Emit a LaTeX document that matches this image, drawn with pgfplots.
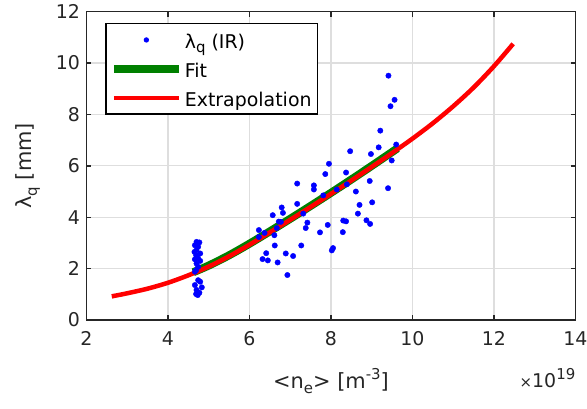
\documentclass[border=0pt]{standalone}
\usepackage{pgfplots}
\pgfplotsset{compat=1.18}
\usepackage{fontspec}
\setmainfont{DejaVu Sans}
\definecolor{axgray}{HTML}{262626}
\definecolor{gridgray}{HTML}{DEDEDE}
\definecolor{fitgreen}{HTML}{008000}
\begin{document}
\begin{tikzpicture}
\useasboundingbox (-86.5bp,-89bp) rectangle (500.5bp,320bp);
\begin{axis}[
  name=ax,
  scale only axis, width=489bp, height=308.3bp,
  at={(0,0)}, anchor=south west,
  xmin=2, xmax=14, ymin=0, ymax=12,
  xtick={2,4,...,14}, ytick={0,2,...,12},
  grid=major, major grid style={draw=gridgray, line width=1.2bp},
  axis line style={draw=axgray, line width=1.6bp},
  every tick/.style={draw=axgray, line width=1.4bp},
  major tick length=5bp, tick align=inside,
  xtick pos=both, ytick pos=both,
  /pgf/number format/assume math mode=true,
  tick label style={font=\fontsize{19}{22}\selectfont, text=axgray},
  yticklabel style={xshift=-3bp},
  xticklabel style={yshift=-8bp},
  xlabel={<n\raisebox{-0.45ex}{\fontsize{15}{15}\selectfont e}> [m\raisebox{0.75ex}{\fontsize{15}{15}\selectfont -3}]},
  ylabel={λ\raisebox{-0.45ex}{\fontsize{15}{15}\selectfont q} [mm]},
  label style={font=\fontsize{21}{24}\selectfont, text=axgray},
  xlabel style={at={(axis description cs:0.5,-0.2206)}, anchor=base},
  ylabel style={at={(axis description cs:-0.1121,0.5)}, anchor=base},
  legend style={at={(axis description cs:0.038,0.964)}, anchor=north west,
    draw=black, line width=1.6bp, fill=white,
    font=\fontsize{19}{22}\selectfont, inner xsep=4bp, inner ysep=3.7bp,
    row sep=3.7bp,
    nodes={text height=18.8bp, text depth=2.5bp, inner sep=2bp}},
  legend cell align=left,
]
\addplot[only marks, mark=*, mark size=2.7bp, color=blue,
  legend image code/.code={\fill[blue, draw=none] (32.5bp,0bp) circle (2.7bp); \path[draw=none] (0bp,0bp) -- (65bp,0bp);}]
  coordinates {
  (4.70,3.04) (4.77,3.02) (4.66,2.91) (4.74,2.85) (4.70,2.72) (4.65,2.65)
  (4.79,2.59) (4.69,2.52) (4.74,2.40) (4.66,2.36) (4.79,2.30) (4.70,2.20)
  (4.74,2.07) (4.69,1.94) (4.66,1.88)
  (4.74,1.55) (4.79,1.49) (4.66,1.36) (4.83,1.27) (4.70,1.17) (4.77,1.06)
  (4.69,1.01) (4.73,0.97)
  (9.41,9.51) (9.56,8.57) (9.46,8.32) (9.21,7.37) (9.17,6.72) (9.60,6.83)
  (8.98,6.46) (8.47,6.57) (7.95,6.08) (7.86,5.68) (8.37,5.74) (9.49,6.21)
  (8.95,5.41) (9.40,5.13) (8.39,5.28) (8.14,5.08) (8.61,5.00) (7.81,4.85)
  (7.58,5.24) (7.58,5.08) (7.17,5.31) (8.70,4.48) (9.01,4.58) (8.66,4.14)
  (8.87,3.88) (8.96,3.74) (8.30,3.87) (8.37,3.84) (8.29,3.42) (7.92,3.70)
  (7.73,3.41) (8.05,2.80) (8.02,2.71) (7.17,4.52) (6.79,4.38) (6.82,4.17)
  (6.57,4.08) (7.32,4.14) (7.42,3.79) (7.38,3.58) (6.72,3.83) (6.77,3.82)
  (6.67,3.58) (6.23,3.50) (6.37,3.39) (6.23,3.23) (6.62,2.90) (7.27,2.90)
  (6.41,2.60) (6.32,2.37) (6.45,2.32) (6.89,2.59) (7.07,2.49) (6.69,2.24)
  (6.93,1.75) (6.61,3.30)
  };
\addlegendentry{λ\raisebox{-0.45ex}{\fontsize{15}{15}\selectfont q} (IR)}
\addplot[color=fitgreen, line width=8bp, smooth,
  legend image code/.code={\draw[fitgreen, line width=8bp] (0bp,0bp) -- (65bp,0bp);}]
  coordinates {
  (4.62,1.86) (5,2.12) (5.5,2.52) (6,2.97) (6.5,3.45) (7,3.94) (7.5,4.44)
  (8,4.95) (8.5,5.47) (9,6.00) (9.5,6.54) (9.63,6.68)
  };
\addlegendentry{Fit}
\addplot[color=red, line width=4.5bp, smooth,
  legend image code/.code={\draw[red, line width=4.5bp] (0bp,0bp) -- (65bp,0bp);}]
  coordinates {
  (2.62,0.92) (3,1.04) (3.5,1.22) (4,1.45) (4.5,1.74) (5,2.08) (5.5,2.48)
  (6,2.93) (6.5,3.41) (7,3.90) (7.5,4.40) (8,4.91) (8.5,5.43) (9,5.96)
  (9.5,6.50) (10,7.06) (10.5,7.66) (11,8.32) (11.5,9.05) (12,9.88) (12.47,10.75)
  };
\addlegendentry{Extrapolation}
\end{axis}
\node[anchor=base east, font=\fontsize{19}{22}\selectfont, text=axgray, inner sep=0pt]
  at ([yshift=-67bp]ax.south east)
  {{\fontsize{15}{15}\selectfont ×}10\raisebox{0.75ex}{\fontsize{15}{15}\selectfont 19}};
\end{tikzpicture}
\end{document}
